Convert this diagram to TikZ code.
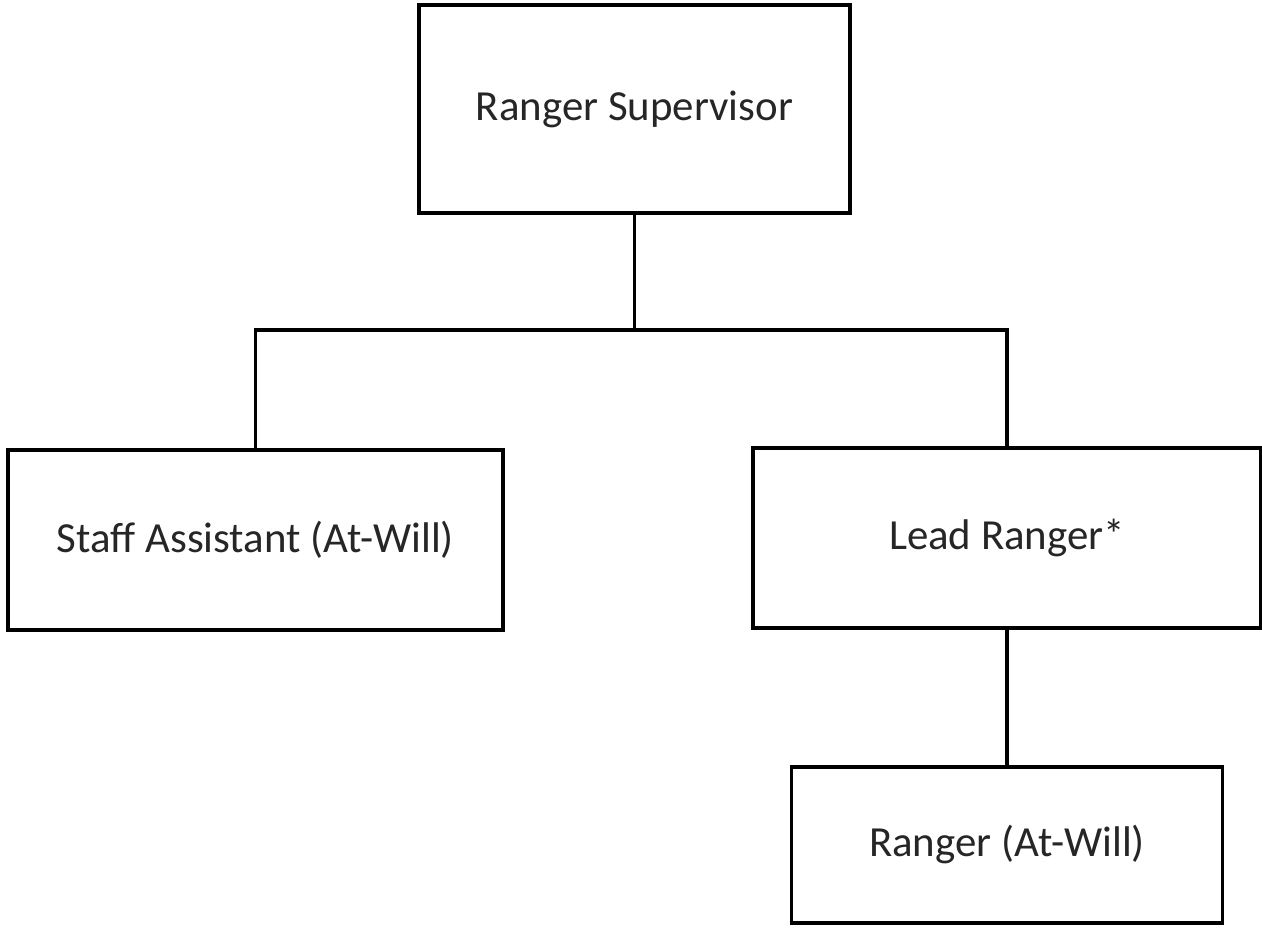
\documentclass[tikz,border=0pt]{standalone}
\usepackage{fontspec}
\setmainfont{Carlito}
\usepackage{tikz}
\usetikzlibrary{positioning}

\begin{document}
\begin{tikzpicture}[
  post/.style={draw, line width=2pt, fill=white, inner sep=0pt,
               font=\fontsize{24.4}{29}\selectfont, text=black!85},
  link/.style={line width=2pt}
]
  \useasboundingbox (0,0) rectangle (25.24,18.54);

  % top of the chart
  \node[post, minimum width=8.62cm, minimum height=4.16cm] (super) at (12.69, 16.36) {Ranger Supervisor};

  % second row
  \node[post, minimum width=9.9cm, minimum height=3.6cm] (staff) at (5.11, 7.74) {Staff Assistant (At-Will)};
  \node[post, minimum width=10.16cm, minimum height=3.6cm] (lead) at (20.14, 7.78) {Lead Ranger*};

  % third row
  \node[post, minimum width=8.62cm, minimum height=3.12cm] (ranger) at (20.14, 1.64) {Ranger (At-Will)};

  \coordinate (split) at (12.69, 11.94);

  \draw[link] (super) -- (split);
  \draw[link] (staff.north) |- (split) -| (lead.north);
  \draw[link] (lead) -- (ranger);
\end{tikzpicture}
\end{document}
